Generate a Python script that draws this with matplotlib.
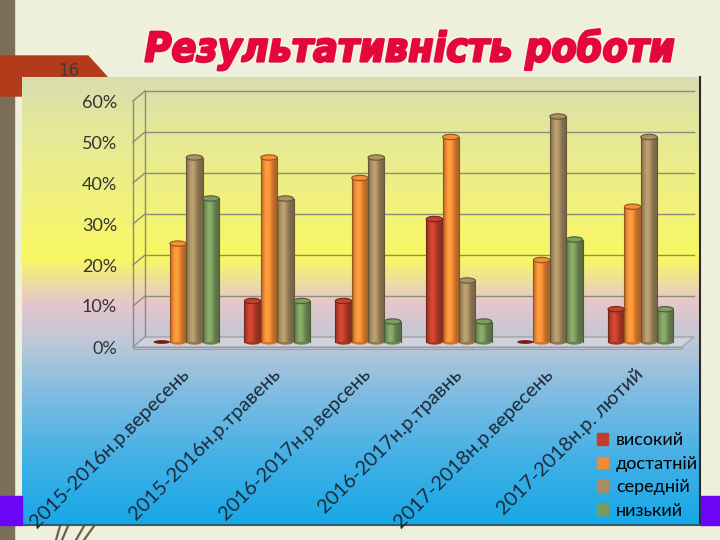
import numpy as np
import matplotlib
matplotlib.use("Agg")
import matplotlib.pyplot as plt
from matplotlib.patches import Rectangle, Polygon, Ellipse
from matplotlib.colors import to_rgb
from matplotlib import font_manager as fm
import matplotlib.patheffects as pe

# ---------------- data ----------------
categories = ["2015-2016н.р.вересень", "2015-2016н.р.травень", "2016-2017н.р.версень",
              "2016-2017н.р.травнь", "2017-2018н.р.вересень", "2017-2018н.р. лютий"]
series_names = ["високий", "достатній", "середній", "низький"]
high = [0, 10, 10, 30, 0, 8]
sufficient = [24, 45, 40, 50, 20, 33]
medium = [45, 35, 45, 15, 55, 50]
low = [35, 10, 5, 5, 25, 8]
series_values = [high, sufficient, medium, low]
series_colors = ["#bf3f2c", "#f28b35", "#a88e62", "#7b9a5e"]
yticks = [0, 10, 20, 30, 40, 50, 60]
title = "Результативність роботи"


def pick_condensed():
    best, best_score = None, -1
    for f in fm.fontManager.ttflist:
        n = f.name
        st = f.stretch
        cond = ("Narrow" in n) or ("Condensed" in n) or \
            (isinstance(st, str) and "condensed" in st) or \
            (isinstance(st, (int, float)) and st < 500)
        if not cond or "CJK" in n:
            continue
        w = f.weight
        wnum = w if isinstance(w, (int, float)) else {"bold": 700, "heavy": 800,
                                                      "black": 900}.get(str(w), 400)
        score = 1 + (2 if wnum >= 700 else 0) + (1 if f.style in ("italic", "oblique") else 0)
        if "Liberation" in n:
            score += 0.5
        if score > best_score:
            best, best_score = f, score
    return best


W, H = 720, 540
fig = plt.figure(figsize=(7.2, 5.4), dpi=100)
fig.patch.set_facecolor("#eef0dc")

# ---------------- slide background (pixel coordinates) ----------------
bg = fig.add_axes([0, 0, 1, 1])
bg.set_xlim(0, W)
bg.set_ylim(H, 0)
bg.axis("off")

bg.add_patch(Rectangle((0, 0), 14, H, color="#7b6f58", zorder=1))
bg.add_patch(Polygon([(0, 56), (88, 56), (108, 78), (108, 96), (0, 96)],
                     closed=True, color="#b43a1c", zorder=2))
bg.text(69, 71, "16", fontsize=12, color="#3c3c3c", ha="center", va="center", zorder=3)

# panel gradient
stops = [(77, "#d8ddb0"), (126, "#e4e89a"), (209, "#f2f27a"), (258, "#f8f862"),
         (283, "#ecdca4"), (303, "#e6c6cc"), (343, "#bcc8d8"), (393, "#80bce2"),
         (459, "#42b0e6"), (524, "#16a8e6")]
ys = np.arange(77, 525)
sy = np.array([s[0] for s in stops], float)
cols = np.array([to_rgb(s[1]) for s in stops])
grad = np.stack([np.interp(ys, sy, cols[:, i]) for i in range(3)], axis=-1)
grad = np.repeat(grad[:, None, :], 2, axis=1)
bg.imshow(grad, extent=[22, 700, 525, 77], aspect="auto", zorder=4, interpolation="bilinear")
bg.plot([700, 700], [77, 525], color="#2b2b2b", lw=1.5, zorder=5)
bg.plot([22, 700], [525, 525], color="#2f5c72", lw=1.5, zorder=5)
bg.add_patch(Rectangle((0, 496), 22, 29, color="#6a05f5", zorder=6))
bg.add_patch(Rectangle((701, 496), 19, 29, color="#6a05f5", zorder=6))
for x0, x1 in [(56, 60), (62, 68), (76, 84), (84, 94)]:
    bg.plot([x0, x1], [540, 526], color="#6b604a", lw=1.6, zorder=2)

tf = pick_condensed()
if tf is not None:
    tprop = fm.FontProperties(fname=tf.fname, size=37)
    if tf.style not in ("italic", "oblique"):
        tprop.set_style("italic")
else:
    tprop = fm.FontProperties(family="DejaVu Sans", weight="bold", style="italic", size=37)
tcol = "#e4083a"
ttl = bg.text(410, 50, title, fontproperties=tprop, color=tcol,
              ha="center", va="center", zorder=10,
              path_effects=[pe.withStroke(linewidth=4, foreground="#f4f4ec"),
                            pe.withStroke(linewidth=1.6, foreground=tcol)])
fig.canvas.draw()
bb = ttl.get_window_extent()
tprop.set_size(37 * 530.0 / bb.width)
ttl.set_fontproperties(tprop)
bg.set_xlim(0, W)
bg.set_ylim(H, 0)

# ---------------- chart axes ----------------
x_front_left, x_front_right = 133, 682
y_front0, px_per_pct = 347, 4.1
ax = fig.add_axes([x_front_left / W, (H - y_front0) / H,
                   (x_front_right - x_front_left) / W, 60 * px_per_pct / H])
ax.patch.set_alpha(0)
xl, xr = -0.52, 5.52
ppu = (x_front_right - x_front_left) / (xr - xl)
dxu = 12 / ppu          # depth offset in x (data units)
D = 10 / px_per_pct     # depth offset in y (data units)

# floor
ax.add_patch(Polygon([(xl, 0), (xr, 0), (xr + dxu, D), (xl + dxu, D)], closed=True,
                     facecolor="#d4d6dc", edgecolor="#9a9aa0", lw=1, alpha=0.8,
                     zorder=1, clip_on=False))
ax.add_patch(Rectangle((xl, -0.5), xr - xl, 0.5, facecolor="#b8bcc6", edgecolor="#9a9aa0",
                       lw=0.6, zorder=1, clip_on=False))

# back wall gridlines + side diagonals
for v in yticks:
    ax.plot([xl, xl + dxu], [v, v + D], color="#8c8c78", lw=1, zorder=0.5, clip_on=False)
    if v > 0:
        ax.plot([xl + dxu, xr + dxu], [v + D, v + D], color="#8c8c78", lw=1,
                zorder=0.5, clip_on=False)
ax.plot([xl, xl], [0, 60], color="#8c8c78", lw=1, zorder=0.5, clip_on=False)
ax.plot([xl + dxu, xl + dxu], [D, 60 + D], color="#8c8c78", lw=1, zorder=0.5, clip_on=False)

# bars (cylinders)
bw = 0.18
offsets = [-1.5 * bw, -0.5 * bw, 0.5 * bw, 1.5 * bw]
t = np.linspace(0, 1, 64)
shade = 0.72 + 0.42 * np.exp(-((t - 0.38) / 0.28) ** 2)
xpos = np.arange(len(categories))
cap_h = 1.3
for vals, off, c, name in zip(series_values, offsets, series_colors, series_names):
    xs = xpos + off + dxu / 2
    bars = ax.bar(xs, vals, width=bw, bottom=D / 2, color=c, zorder=3, label=name,
                  edgecolor="none")
    base = np.array(to_rgb(c))
    img = np.clip(base[None, :] * shade[:, None], 0, 1)[None, :, :]
    dark = tuple(np.clip(base * 0.6, 0, 1))
    for b in bars:
        x0, y0 = b.get_x(), b.get_y()
        w, h = b.get_width(), b.get_height()
        if h > 0:
            ax.imshow(img, extent=[x0, x0 + w, y0, y0 + h], aspect="auto", zorder=3.1,
                      interpolation="bilinear")
            ax.plot([x0, x0], [y0, y0 + h], color=dark, lw=0.8, zorder=3.2)
            ax.plot([x0 + w, x0 + w], [y0, y0 + h], color=dark, lw=0.8, zorder=3.2)
            ax.add_patch(Ellipse((x0 + w / 2, y0), w, cap_h, facecolor=tuple(base * 0.85),
                                 edgecolor="none", zorder=3.0))
            ax.add_patch(Ellipse((x0 + w / 2, y0 + h), w, cap_h,
                                 facecolor=tuple(np.clip(base * 1.02, 0, 1)),
                                 edgecolor=dark, lw=0.8, zorder=3.3))
        else:
            ax.add_patch(Ellipse((x0 + w / 2, y0), w, cap_h * 0.7, facecolor="#7a1a14",
                                 edgecolor="none", zorder=3.3))

ax.set_xlim(xl, xr)
ax.set_ylim(0, 60)
for s in ax.spines.values():
    s.set_visible(False)
ax.set_xticks([])
ax.set_yticks(yticks)
ax.set_yticklabels([f"{v}%" for v in yticks], fontsize=13, color="#333333",
                   family=["Lato", "DejaVu Sans"])
ax.tick_params(axis="y", length=0, pad=11.5)

for k, lab in enumerate(categories):
    ax.text(k + dxu / 2, -6.0, lab, rotation=45, rotation_mode="anchor",
            ha="right", va="center", fontsize=14.5, color="#1c2a38",
            family=["Lato", "DejaVu Sans"], clip_on=False)

handles = [Rectangle((0, 0), 1, 1, color=c) for c in series_colors]
fig.legend(handles, series_names, loc="upper left", bbox_to_anchor=(581 / W, 1 - 416 / H),
           frameon=False, handlelength=0.6, handleheight=0.6,
           handletextpad=0.45, labelspacing=0.42, prop={"family": "Lato", "size": 13})

fig.savefig("out.png", dpi=100, facecolor=fig.get_facecolor())
